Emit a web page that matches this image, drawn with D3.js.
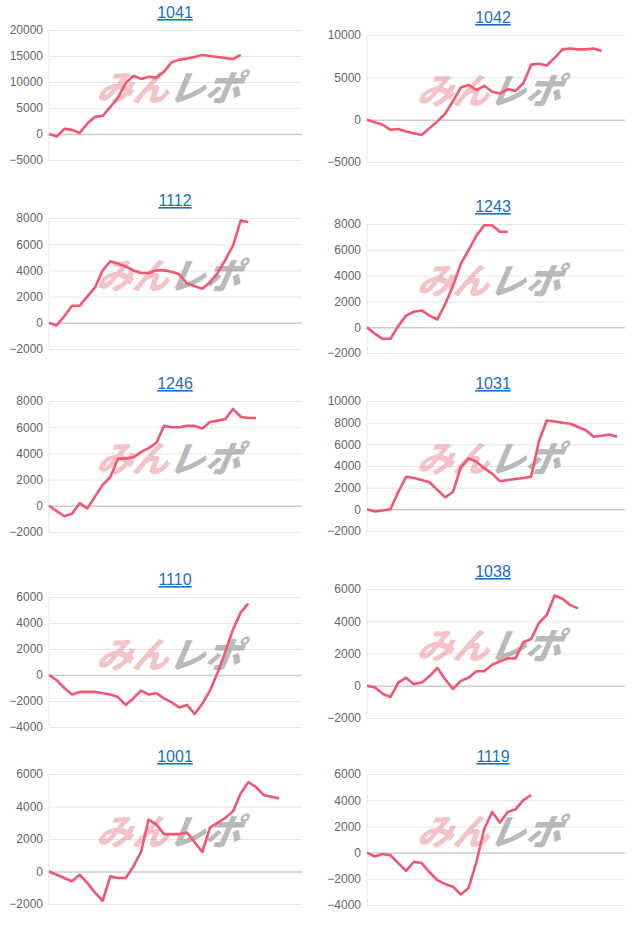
<!DOCTYPE html>
<html><head><meta charset="utf-8">
<script src="https://cdn.jsdelivr.net/npm/d3@7"></script>
<style>body{margin:0;background:#fff}</style></head>
<body><svg id="c" width="640" height="931"></svg>
<script>
const titles=["1041","1042","1112","1243","1246","1031","1110","1038","1001","1119"];
const s1041=[0,-500,1000,800,200,2000,3300,3500,5200,7000,9800,11200,10600,11000,10800,12000,13800,14300,14500,14800,15200,15000,14800,14600,14400,15200];
const s1042=[0,-300,-600,-1200,-1100,-1400,-1600,-1800,-1000,-200,700,2200,3800,4100,3500,4000,3300,3100,3600,3400,4300,6500,6600,6400,7300,8300,8400,8300,8300,8400,8100];
const s1112=[0,-200,500,1300,1300,2000,2700,4000,4700,4500,4300,4000,3800,3800,4000,4000,3900,3700,3000,2800,2600,3100,3800,4800,5900,7800,7700];
const s1243=[0,-500,-900,-900,100,900,1200,1300,900,600,1800,3200,4900,6000,7100,7900,7900,7400,7400];
const s1246=[0,-400,-800,-600,200,-200,700,1600,2200,3600,3600,3700,4100,4400,4800,6100,6000,6000,6100,6100,5900,6400,6500,6600,7400,6800,6700,6700];
const s1031=[0,-200,-100,0,1600,3000,2900,2700,2500,1800,1100,1600,3900,4700,4400,3800,3300,2600,2700,2800,2900,3000,6300,8200,8100,8000,7900,7600,7300,6700,6800,6900,6700];
const s1110=[0,-400,-1000,-1500,-1300,-1300,-1300,-1400,-1500,-1700,-2300,-1800,-1200,-1500,-1400,-1800,-2100,-2500,-2300,-3000,-2200,-1200,200,1800,3500,4800,5500];
const s1038=[0,-100,-500,-700,200,500,100,200,600,1100,400,-200,300,500,900,900,1300,1500,1700,1700,2700,2900,3900,4400,5600,5400,5000,4800];
const s1001=[0,-200,-400,-600,-200,-700,-1300,-1800,-300,-400,-400,300,1200,3200,2900,2300,2300,2300,2400,1800,1200,2700,3000,3300,3700,4800,5500,5200,4700,4600,4500];
const s1119=[0,-300,-100,-200,-800,-1400,-700,-800,-1500,-2100,-2400,-2600,-3200,-2700,-700,1800,3100,2300,3100,3300,4000,4400];
const series=[s1041,s1042,s1112,s1243,s1246,s1031,s1110,s1038,s1001,s1119];
const yMin=[-5000,-5000,-2000,-2000,-2000,-2000,-4000,-2000,-2000,-4000];
const yMax=[20000,10000,8000,8000,8000,10000,6000,6000,6000,6000];
const yStep=[5000,5000,2000,2000,2000,2000,2000,2000,2000,2000];
const tops=[30,35,218,224,401,401,597,589,774,774], bots=[160,162,349,353,532,531,727,718,904,905];
const svg=d3.select("#c");
series.forEach((s,i)=>{
  const left=i%2===0, x0=left?49:367, x1=left?302:625;
  const x=d3.scaleLinear().domain([0,33]).range([x0,x1]);
  const y=d3.scaleLinear().domain([yMin[i],yMax[i]]).range([bots[i],tops[i]]);
  const g=svg.append("g");
  const ticks=d3.range(yMin[i],yMax[i]+1,yStep[i]);
  const ax=g.append("g").attr("transform",`translate(${x0},0)`).call(d3.axisLeft(y).tickValues(ticks).tickSize(-(x1-x0)).tickPadding(6).tickFormat(d3.format("d")));
  ax.select(".domain").remove();
  ax.selectAll("line").attr("stroke",d=>d===0?"#ccc":"#e6e6e6").attr("stroke-width",d=>d===0?1.5:1);
  ax.selectAll("text").attr("fill","#666").style("font","12px 'Liberation Sans',Arial,sans-serif");
  g.append("line").attr("x1",x0).attr("x2",x0).attr("y1",tops[i]).attr("y2",bots[i]).attr("stroke","#e6e6e6");
  const cx=(x0+x1)/2, cy=(tops[i]+bots[i])/2;
  const by=cy+6;
  const wm=g.append("text").attr("x",cx-8+by*Math.tan(10*Math.PI/180)).attr("y",by).attr("text-anchor","middle")
    .style("font","italic 900 36px 'Noto Sans CJK JP',sans-serif").attr("transform","skewX(-10)");
  wm.append("tspan").text("みん").attr("fill","rgba(228,120,130,0.45)");
  wm.append("tspan").text("レポ").attr("fill","rgba(140,140,140,0.6)");
  g.append("path").datum(s).attr("fill","none").attr("stroke","#f25670").attr("stroke-width",2.6)
    .attr("stroke-linejoin","round").attr("d",d3.line().x((d,j)=>x(j)).y(d=>y(d)));
  g.append("text").attr("x",left?175:493).attr("y",tops[i]-12).attr("text-anchor","middle")
    .attr("fill","#1a6fc4").style("font","16px 'Liberation Sans',Arial,sans-serif").style("text-decoration","underline").text(titles[i]);
});
</script></body></html>
